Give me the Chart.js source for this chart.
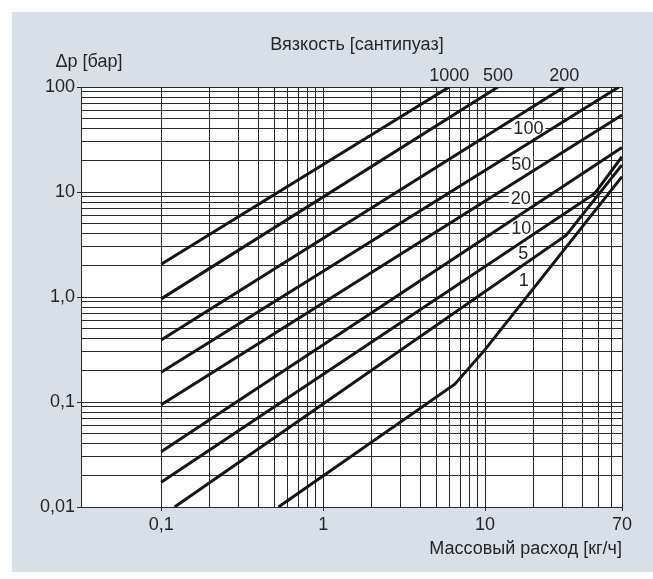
<!DOCTYPE html>
<html>
<head>
<meta charset="utf-8">
<script src="https://cdn.jsdelivr.net/npm/chart.js@4.4.1/dist/chart.umd.min.js"></script>
<style>
  html, body { margin: 0; padding: 0; background: #ffffff; }
  #wrap { position: relative; width: 653px; height: 579px; }
</style>
</head>
<body>
<div id="wrap"><canvas id="c" width="653" height="579"></canvas></div>
<script>
// ---------- data ----------
const viscosityLabels = ['1000', '500', '200', '100', '50', '20', '10', '5', '1'];

// mass flow [kg/h] / pressure drop [bar] points for each viscosity curve
const flow1000 = [0.1, 6.0];    const dp1000 = [2.05, 100];
const flow500  = [0.1, 12.0];   const dp500  = [0.96, 100];
const flow200  = [0.1, 30.8];   const dp200  = [0.39, 100];
const flow100  = [0.1, 67];     const dp100  = [0.192, 100];
const flow50   = [0.1, 70];     const dp50   = [0.094, 54];
const flow20   = [0.1, 70];     const dp20   = [0.0336, 26.5];
const flow10   = [0.1, 47.5, 70];        const dp10 = [0.0172, 9.7, 21.7];
const flow5    = [0.121, 31.7, 70];      const dp5  = [0.01, 3.88, 18.1];
const flow1    = [0.53, 6.5, 9.9, 70];   const dp1  = [0.01, 0.148, 0.31, 14.0];

const seriesFlow = [flow1000, flow500, flow200, flow100, flow50, flow20, flow10, flow5, flow1];
const seriesDp   = [dp1000, dp500, dp200, dp100, dp50, dp20, dp10, dp5, dp1];

// grid values and tick labels
const xGridValues = [0.1,0.2,0.3,0.4,0.5,0.6,0.7,0.8,0.9,1,2,3,4,5,6,7,8,9,10,20,30,40,50,60,70];
const yGridValues = [0.01,0.02,0.03,0.04,0.05,0.06,0.07,0.08,0.09,0.1,0.2,0.3,0.4,0.5,0.6,0.7,0.8,0.9,
                     1,2,3,4,5,6,7,8,9,10,20,30,40,50,60,70,80,90,100];
const xTickValues = [0.1, 1, 10, 70];
const xTickTexts  = ['0,1', '1', '10', '70'];
const yTickValues = [0.01, 0.1, 1, 10, 100];
const yTickTexts  = ['0,01', '0,1', '1,0', '10', '100'];

const titleTop   = 'Вязкость [сантипуаз]';
const titleY     = 'Δp [бар]';
const titleX     = 'Массовый расход [кг/ч]';

// ---------- helpers ----------
function matchIndex(arr, v) {
  for (let i = 0; i < arr.length; i++) if (Math.abs(arr[i] - v) / arr[i] < 1e-6) return i;
  return -1;
}
const FONT = '"Liberation Sans", Arial, sans-serif';
const FS = 18;
const TXT = '#262626';
const GRID = '#2a2a2a';

// label placement (viscosity labels): top ones above plot, inner ones in a column
const topLabelIdx = [0, 1, 2];
const innerLabelPos = [ // [seriesIndex, xValue, yValue]
  [3, 18.5, 39.8],
  [4, 16.7, 18.1],
  [5, 16.6, 8.6],
  [6, 16.7, 4.42],
  [7, 17.2, 2.56],
  [8, 17.3, 1.43]
];

const datasets = seriesFlow.map((fx, i) => ({
  label: viscosityLabels[i],
  data: fx.map((x, j) => ({ x: x, y: seriesDp[i][j] })),
  showLine: true,
  borderColor: '#161616',
  borderWidth: 3,
  pointRadius: 0,
  fill: false,
  tension: 0
}));

const decorPlugin = {
  id: 'decor',
  beforeDraw(chart) {
    const ctx = chart.ctx, a = chart.chartArea;
    ctx.save();
    ctx.fillStyle = '#d6e0e6';
    ctx.fillRect(12, 12, 641, 560);
    ctx.fillStyle = '#ffffff';
    ctx.fillRect(a.left, a.top, a.right - a.left, a.bottom - a.top);
    ctx.restore();
  },
  beforeDatasetsDraw(chart) {
    const ctx = chart.ctx, xs = chart.scales.x, ys = chart.scales.y;
    ctx.save();
    ctx.font = FS + 'px ' + FONT;
    ctx.fillStyle = '#ffffff';
    innerLabelPos.forEach(p => {
      const t = viscosityLabels[p[0]];
      const w = ctx.measureText(t).width;
      const px = xs.getPixelForValue(p[1]), py = ys.getPixelForValue(p[2]);
      ctx.fillRect(px - w / 2 - 2, py - 9, w + 4, 18);
    });
    ctx.restore();
  },
  afterDatasetsDraw(chart) {
    const ctx = chart.ctx, xs = chart.scales.x, ys = chart.scales.y, a = chart.chartArea;
    ctx.save();
    ctx.fillStyle = TXT;
    ctx.textBaseline = 'middle';
    ctx.textAlign = 'center';
    ctx.font = FS + 'px ' + FONT;
    innerLabelPos.forEach(p => {
      ctx.fillText(viscosityLabels[p[0]], xs.getPixelForValue(p[1]), ys.getPixelForValue(p[2]));
    });
    topLabelIdx.forEach(i => {
      const fx = seriesFlow[i];
      ctx.fillText(viscosityLabels[i], xs.getPixelForValue(fx[fx.length - 1]), a.top - 11);
    });
    ctx.fillText(titleTop, 357, 45);
    ctx.fillText(titleY, 89, 62);
    ctx.textAlign = 'right';
    ctx.fillText(titleX, a.right, 549);
    ctx.restore();
  }
};

new Chart(document.getElementById('c'), {
  type: 'scatter',
  data: { datasets: datasets },
  options: {
    responsive: false,
    animation: false,
    events: [],
    layout: { padding: { left: 0, top: 87, right: 31, bottom: 0 } },
    plugins: { legend: { display: false }, tooltip: { enabled: false }, title: { display: false } },
    scales: {
      x: {
        type: 'logarithmic',
        min: 0.032, max: 70,
        afterFit: s => { s.height = 72; },
        afterBuildTicks: s => { s.ticks = xGridValues.map(v => ({ value: v })); },
        grid: {
          color: GRID, lineWidth: 1, drawTicks: true, tickLength: 4,
          tickColor: c => (c.tick && matchIndex(xTickValues, c.tick.value) >= 0) ? GRID : 'rgba(0,0,0,0)'
        },
        border: { display: true, color: GRID, width: 1 },
        ticks: {
          autoSkip: false, maxRotation: 0, minRotation: 0, padding: 3,
          color: TXT, font: { family: FONT, size: FS },
          callback: v => { const i = matchIndex(xTickValues, v); return i >= 0 ? xTickTexts[i] : ''; }
        }
      },
      y: {
        type: 'logarithmic',
        min: 0.01, max: 100,
        afterFit: s => { s.width = 81; },
        afterBuildTicks: s => { s.ticks = yGridValues.map(v => ({ value: v })); },
        grid: {
          color: GRID, lineWidth: 1, drawTicks: true, tickLength: 4,
          tickColor: c => (c.tick && matchIndex(yTickValues, c.tick.value) >= 0) ? GRID : 'rgba(0,0,0,0)'
        },
        border: { display: true, color: GRID, width: 1 },
        ticks: {
          autoSkip: false, padding: 2,
          color: TXT, font: { family: FONT, size: FS },
          callback: v => { const i = matchIndex(yTickValues, v); return i >= 0 ? yTickTexts[i] : ''; }
        }
      }
    }
  },
  plugins: [decorPlugin]
});
</script>
</body>
</html>
